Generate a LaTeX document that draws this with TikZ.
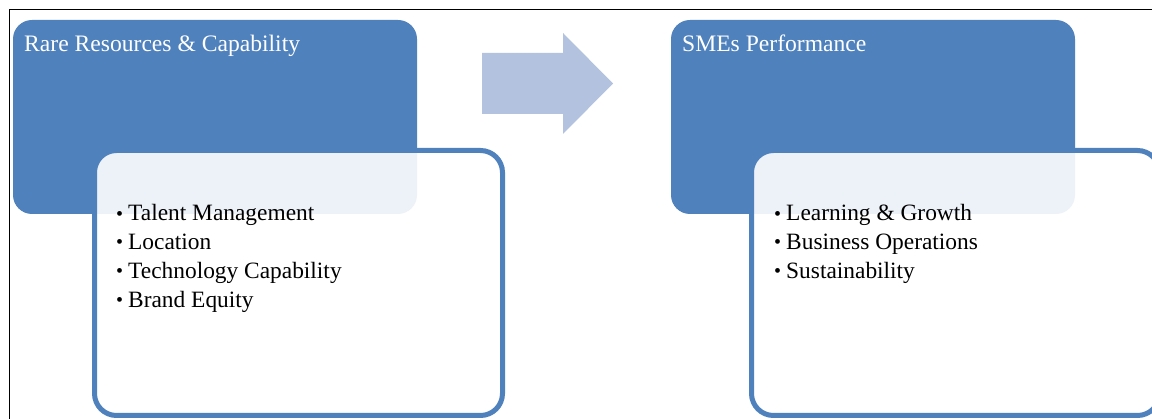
\documentclass[tikz,border=0pt]{standalone}
\usepackage{fontspec}
\setmainfont{Liberation Serif}
\begin{document}
\begin{tikzpicture}[x=1pt,y=-1pt,
  bluebox/.style={fill=accent, draw=none, rounded corners=19pt, inner sep=0pt, outer sep=0pt, anchor=north west},
  frontbox/.style={fill=white, fill opacity=0.9, draw=accent, draw opacity=1, line width=5pt, rounded corners=22pt, inner sep=0pt, anchor=north west},
  titletext/.style={anchor=base west, inner sep=0pt, text=white, font=\fontsize{23.6}{28}\selectfont},
  itemtext/.style={anchor=base west, inner sep=0pt, text=black, font=\fontsize{23.4}{29}\selectfont},
  arrowfill/.style={fill=arrowc, draw=none}]
\definecolor{accent}{HTML}{4F81BD}
\definecolor{arrowc}{HTML}{B3C2DE}
\newcommand{\itembul}{\makebox[12pt][l]{\raisebox{0.5pt}{\fontsize{20}{20}\selectfont •}}}
\useasboundingbox (0,0) rectangle (1152,419);
\clip (0,0) rectangle (1152,419);
\fill[white] (0,0) rectangle (1152,419);
% outer frame
\draw[black, line width=1.3pt] (9.5,9.5) rectangle (1200,500);
% left group
\node[bluebox, minimum width=404pt, minimum height=194pt] (b1) at (13,20) {};
\node[titletext] (t1) at (24,52) {Rare Resources \& Capability};
\node[frontbox, minimum width=408pt, minimum height=265pt] (f1) at (92,148) {};
\node[itemtext] (i1a) at (116,220.7) {\itembul Talent Management};
\node[itemtext] (i1b) at (116,249.5) {\itembul Location};
\node[itemtext] (i1c) at (116,278.5) {\itembul Technology Capability};
\node[itemtext] (i1d) at (116,307.3) {\itembul Brand Equity};
% arrow
\fill[arrowfill] (482,53) -- (563,53) -- (563,33) -- (613,83.5) -- (563,134) -- (563,114) -- (482,114) -- cycle;
% right group
\node[bluebox, minimum width=404pt, minimum height=194pt] (b2) at (671,20) {};
\node[titletext] (t2) at (682,52) {SMEs Performance};
\node[frontbox, minimum width=408pt, minimum height=265pt] (f2) at (749,148) {};
\node[itemtext] (i2a) at (774,220.7) {\itembul Learning \& Growth};
\node[itemtext] (i2b) at (774,249.5) {\itembul Business Operations};
\node[itemtext] (i2c) at (774,278.5) {\itembul Sustainability};
\end{tikzpicture}
\end{document}
